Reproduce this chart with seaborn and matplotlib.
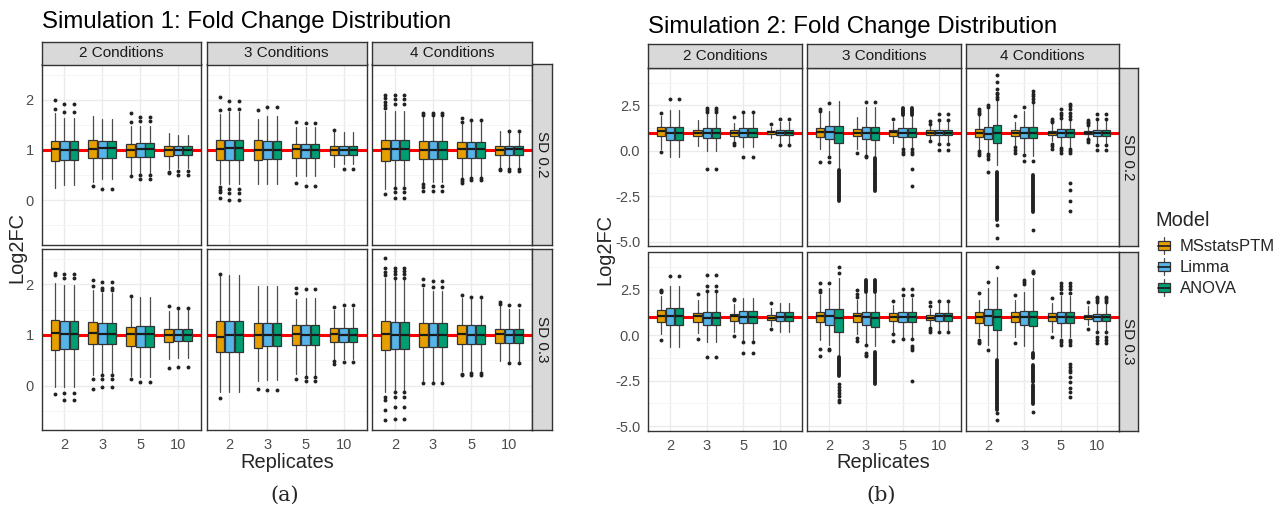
import matplotlib
matplotlib.use("Agg")
import matplotlib.pyplot as plt
import seaborn as sns
from matplotlib.patches import Patch, Rectangle
from matplotlib.lines import Line2D
from matplotlib.legend_handler import HandlerBase

# ---- categories ----
REPLICATES = ["2", "3", "5", "10"]
CONDITIONS = ["2 Conditions", "3 Conditions", "4 Conditions"]
SD_LEVELS = ["SD 0.2", "SD 0.3"]
MODELS = ["MSstatsPTM", "Limma", "ANOVA"]
COLORS = ["#E69F00", "#56B4E9", "#009E73"]

# box order inside each facet: rep2 (M, L, A), rep3 (M, L, A), rep5 (...), rep10 (...)
# ---- Simulation 1 box statistics [sd row][condition col][12 boxes] ----
S1_Q3 = [
    [[1.18, 1.18, 1.18, 1.20, 1.17, 1.17, 1.12, 1.13, 1.13, 1.07, 1.08, 1.08],
     [1.20, 1.20, 1.20, 1.19, 1.17, 1.17, 1.12, 1.12, 1.12, 1.08, 1.08, 1.08],
     [1.20, 1.20, 1.20, 1.17, 1.17, 1.17, 1.15, 1.15, 1.15, 1.08, 1.08, 1.08]],
    [[1.29, 1.27, 1.27, 1.26, 1.24, 1.24, 1.16, 1.18, 1.18, 1.11, 1.12, 1.12],
     [1.27, 1.27, 1.27, 1.24, 1.24, 1.24, 1.19, 1.19, 1.19, 1.13, 1.13, 1.13],
     [1.28, 1.26, 1.26, 1.23, 1.23, 1.23, 1.19, 1.19, 1.19, 1.11, 1.12, 1.12]],
]
S1_MED = [
    [[1.01, 0.99, 0.99, 1.02, 1.03, 1.03, 1.00, 1.02, 1.02, 1.00, 1.00, 1.00],
     [1.02, 1.03, 1.03, 0.99, 1.00, 1.00, 1.01, 1.00, 1.00, 1.00, 1.00, 1.00],
     [1.02, 1.02, 1.02, 1.00, 0.99, 0.99, 1.02, 1.01, 1.01, 1.00, 1.02, 1.02]],
    [[1.04, 1.01, 1.01, 1.04, 1.01, 1.01, 1.02, 1.01, 1.01, 1.00, 1.00, 1.00],
     [0.96, 1.00, 1.00, 1.00, 1.00, 1.00, 1.01, 1.00, 1.00, 1.02, 1.00, 1.00],
     [1.01, 1.00, 1.00, 1.00, 1.00, 1.00, 1.01, 1.00, 1.00, 1.01, 1.00, 1.00]],
]
S1_Q1 = [
    [[0.78, 0.81, 0.81, 0.85, 0.85, 0.85, 0.86, 0.87, 0.87, 0.88, 0.90, 0.90],
     [0.80, 0.80, 0.80, 0.80, 0.82, 0.82, 0.84, 0.84, 0.84, 0.90, 0.90, 0.90],
     [0.79, 0.80, 0.80, 0.82, 0.82, 0.82, 0.85, 0.85, 0.85, 0.90, 0.90, 0.90]],
    [[0.71, 0.73, 0.73, 0.83, 0.83, 0.83, 0.79, 0.77, 0.77, 0.86, 0.88, 0.88],
     [0.67, 0.67, 0.67, 0.75, 0.78, 0.78, 0.80, 0.80, 0.80, 0.86, 0.86, 0.86],
     [0.70, 0.72, 0.72, 0.77, 0.77, 0.77, 0.83, 0.82, 0.82, 0.84, 0.84, 0.84]],
]
S1_HI = [
    [[1.73, 1.64, 1.64, 1.67, 1.62, 1.62, 1.48, 1.48, 1.48, 1.34, 1.30, 1.30],
     [1.72, 1.75, 1.75, 1.62, 1.68, 1.68, 1.46, 1.45, 1.45, 1.35, 1.36, 1.36],
     [1.78, 1.78, 1.78, 1.65, 1.65, 1.65, 1.52, 1.57, 1.57, 1.37, 1.35, 1.35]],
    [[2.03, 1.99, 1.99, 1.88, 1.83, 1.83, 1.73, 1.75, 1.75, 1.48, 1.50, 1.50],
     [2.16, 2.19, 2.19, 1.96, 1.96, 1.96, 1.72, 1.74, 1.74, 1.50, 1.54, 1.54],
     [2.12, 2.09, 2.09, 1.93, 1.86, 1.86, 1.73, 1.73, 1.73, 1.57, 1.52, 1.52]],
]
S1_LO = [
    [[0.25, 0.30, 0.30, 0.36, 0.42, 0.42, 0.52, 0.52, 0.52, 0.62, 0.64, 0.64],
     [0.32, 0.32, 0.32, 0.32, 0.32, 0.32, 0.49, 0.49, 0.49, 0.67, 0.72, 0.72],
     [0.22, 0.29, 0.29, 0.36, 0.36, 0.36, 0.46, 0.46, 0.46, 0.67, 0.67, 0.67]],
    [[-0.03, -0.03, -0.03, 0.20, 0.23, 0.23, 0.18, 0.16, 0.16, 0.52, 0.54, 0.54],
     [-0.13, -0.12, -0.12, 0.08, 0.10, 0.10, 0.23, 0.20, 0.20, 0.52, 0.52, 0.52],
     [-0.13, -0.10, -0.10, 0.08, 0.08, 0.08, 0.29, 0.29, 0.29, 0.49, 0.49, 0.49]],
]
S1_OUT = [
    [[[1.81, 1.99], [1.75, 1.91], [1.75, 1.91],
      [0.29], [0.22], [0.22],
      [1.55, 1.73, 0.48], [1.57, 1.66, 0.50, 0.42], [1.57, 1.66, 0.50, 0.42],
      [0.57, 0.54], [0.59, 0.51], [0.59, 0.51]],
     [[2.06, 1.79, 0.26, 0.21, 0.16, 0.04], [1.98, 1.81, 0.22, 0.14, 0.01], [1.98, 1.81, 0.22, 0.14, 0.01],
      [1.80], [1.85], [1.85],
      [1.56, 0.34], [1.53, 0.29], [1.53, 0.29],
      [1.40], [0.62], [0.62]],
     [[1.84, 1.90, 1.96, 2.03, 2.10, 0.13], [1.91, 2.01, 2.09, 0.24, 0.16, 0.05], [1.91, 2.01, 2.09, 0.24, 0.16, 0.05],
      [1.70, 1.73, 0.32, 0.26, 0.19], [1.70, 1.73, 0.28, 0.18], [1.70, 1.73, 0.28, 0.18],
      [1.55, 1.64, 0.42, 0.38, 0.35], [1.60, 0.45, 0.41], [1.60, 0.45, 0.41],
      [0.63, 0.60], [1.38, 0.63, 0.59], [1.38, 0.63, 0.59]]],
    [[[2.18, 2.23, -0.17], [2.12, 2.20, -0.14, -0.29], [2.12, 2.20, -0.14, -0.29],
      [1.96, 2.08, 0.13, -0.07], [1.88, 1.93, 2.04, 0.13, 0.21, -0.02], [1.88, 1.93, 2.04, 0.13, 0.21, -0.02],
      [1.77, 0.13], [0.06], [0.06],
      [1.58, 0.35], [1.54, 0.37], [1.54, 0.37]],
     [[2.21, -0.25], [], [],
      [-0.07], [-0.09], [-0.09],
      [1.82, 1.92, 0.12], [1.90, 0.16, 0.08], [1.90, 0.16, 0.08],
      [1.56, 0.49, 0.42], [1.59, 0.47], [1.59, 0.47]],
     [[2.18, 2.25, 2.32, 2.52, -0.23, -0.28, -0.48, -0.69], [2.12, 2.20, 2.27, 2.32, -0.13, -0.23, -0.43, -0.67],
      [2.12, 2.20, 2.27, 2.32, -0.13, -0.23, -0.43, -0.67],
      [1.98, 2.11, 0.05], [1.94, 2.07, 0.05], [1.94, 2.07, 0.05],
      [1.80, 0.23, 0.20], [1.76, 0.25, 0.21], [1.76, 0.25, 0.21],
      [1.61, 1.65], [1.59, 0.44], [1.59, 0.44]]],
]

# ---- Simulation 2 box statistics ----
S2_Q3 = [
    [[1.29, 1.29, 1.29, 1.16, 1.25, 1.25, 1.12, 1.23, 1.23, 1.08, 1.16, 1.16],
     [1.27, 1.37, 1.37, 1.21, 1.30, 1.30, 1.16, 1.25, 1.25, 1.12, 1.12, 1.12],
     [1.20, 1.33, 1.40, 1.15, 1.30, 1.30, 1.10, 1.20, 1.20, 1.08, 1.15, 1.15]],
    [[1.36, 1.49, 1.49, 1.21, 1.29, 1.29, 1.16, 1.34, 1.34, 1.12, 1.25, 1.25],
     [1.30, 1.43, 1.43, 1.21, 1.30, 1.30, 1.20, 1.29, 1.29, 1.12, 1.21, 1.21],
     [1.27, 1.43, 1.43, 1.27, 1.35, 1.35, 1.20, 1.27, 1.27, 1.10, 1.15, 1.15]],
]
S2_MED = [
    [[1.08, 0.97, 0.97, 1.00, 1.00, 1.00, 0.99, 1.00, 1.00, 1.03, 1.00, 1.00],
     [1.03, 1.03, 0.97, 1.00, 1.00, 1.00, 1.03, 0.97, 0.97, 1.00, 0.97, 0.97],
     [0.98, 0.93, 1.00, 1.00, 1.00, 1.00, 1.00, 1.00, 1.00, 1.00, 1.00, 1.00]],
    [[1.07, 1.03, 1.03, 1.03, 0.92, 0.92, 1.03, 0.99, 0.99, 0.97, 1.01, 1.01],
     [1.03, 1.03, 0.94, 1.03, 1.00, 0.97, 1.02, 1.00, 1.00, 0.97, 1.03, 1.03],
     [1.00, 1.05, 1.00, 1.00, 1.02, 1.00, 1.00, 1.00, 1.00, 1.00, 0.98, 0.98]],
]
S2_Q1 = [
    [[0.79, 0.59, 0.59, 0.79, 0.70, 0.70, 0.81, 0.76, 0.76, 0.90, 0.86, 0.86],
     [0.76, 0.66, 0.40, 0.79, 0.65, 0.60, 0.81, 0.77, 0.77, 0.86, 0.84, 0.84],
     [0.75, 0.66, 0.44, 0.80, 0.71, 0.70, 0.88, 0.75, 0.77, 0.90, 0.82, 0.82]],
    [[0.74, 0.55, 0.55, 0.72, 0.55, 0.55, 0.77, 0.66, 0.66, 0.85, 0.79, 0.79],
     [0.70, 0.55, 0.17, 0.70, 0.55, 0.44, 0.78, 0.70, 0.70, 0.86, 0.79, 0.79],
     [0.66, 0.55, 0.30, 0.70, 0.55, 0.50, 0.79, 0.66, 0.66, 0.88, 0.80, 0.80]],
]
S2_HI = [
    [[1.90, 2.26, 2.26, 1.67, 2.04, 2.04, 1.53, 2.04, 2.04, 1.30, 1.58, 1.58],
     [2.10, 2.20, 2.73, 1.85, 2.40, 2.40, 1.58, 1.95, 1.95, 1.40, 1.58, 1.58],
     [1.95, 2.30, 2.75, 1.60, 2.20, 2.60, 1.50, 1.75, 1.70, 1.38, 1.70, 1.70]],
    [[2.13, 2.68, 2.68, 1.91, 2.30, 2.30, 1.71, 2.04, 2.04, 1.49, 1.76, 1.76],
     [2.20, 2.60, 3.14, 1.95, 2.30, 2.30, 1.65, 2.04, 2.04, 1.45, 1.76, 1.76],
     [1.95, 2.60, 3.20, 1.95, 2.40, 3.15, 1.76, 2.13, 2.13, 1.58, 1.76, 1.76]],
]
S2_LO = [
    [[0.10, -0.35, -0.35, 0.24, -0.02, -0.02, 0.52, 0.20, 0.20, 0.70, 0.39, 0.39],
     [0.10, -0.25, -1.00, 0.10, -0.25, -0.30, 0.44, 0.20, 0.20, 0.63, 0.48, 0.48],
     [0.05, -0.10, -0.77, 0.30, -0.10, -0.30, 0.55, 0.20, 0.20, 0.68, 0.40, 0.40]],
    [[0.05, -0.66, -0.66, 0.11, -0.35, -0.35, 0.20, -0.35, -0.35, 0.51, 0.15, 0.15],
     [-0.26, -0.53, -1.08, 0.05, -0.45, -0.62, 0.20, -0.10, -0.10, 0.51, 0.29, 0.29],
     [-0.10, -0.53, -1.27, -0.10, -0.62, -0.90, 0.20, -0.10, -0.10, 0.57, 0.29, 0.29]],
]
S2_OUT = [
    [[[2.08, -0.07], [2.87], [2.87],
      [], [2.13, 2.25, 2.35, -1.0], [2.13, 2.25, 2.35, -1.0],
      [1.86, 0.42, 0.30], [2.13, -0.35], [2.13, -0.35],
      [1.49], [1.76, 0.30], [1.76, 0.30]],
     [[2.20, 2.30, -0.60], [2.65, -0.35, -0.60], [],
      [-0.10], [2.70, -0.30, -0.35], [2.70],
      [1.76], [0.07, -0.05, -0.20], [0.07, -0.05, -0.20, -1.0, -1.92],
      [1.45, 1.64, 0.53], [2.04, 1.67, 0.35, 0.04], [2.04, 1.67, 0.35, 0.04]],
     [[2.03, 2.10, 2.20, 2.30, -0.04, -0.12, -0.22], [2.40, 2.53, -0.17, -0.30, -0.45, -1.17],
      [2.82, 2.95, 3.10, 3.20, 3.37, 3.77, 4.14, -4.10, -4.80],
      [1.90, 0.20, 0.05, -0.10], [2.38, -0.26, -0.58], [2.67, 2.85, 3.00, 3.10, 3.30, -0.58, -4.34],
      [1.57, 1.65, 1.75, 0.38, 0.25, 0.10], [1.80, 1.95, 2.10, 2.30, 0.15, 0.05, -0.10],
      [1.75, 1.93, 2.10, 2.30, 2.45, 2.58, 0.10, 0.0, -0.10, -1.80, -2.18, -2.77, -3.33],
      [1.40, 1.50, 1.60, 1.67, 0.66, 0.58, 0.50], [1.76, 2.03, 0.33, 0.02], [1.76, 2.03, 0.33, 0.02]]],
    [[[2.37, 2.45, 2.50, -0.26], [3.23], [3.23],
      [2.26, -0.22], [2.43, 2.72, 3.29, -1.21], [2.43, 2.72, 3.29, -1.21],
      [1.91, 1.98, -0.07], [-0.39, -0.99], [-0.39, -0.99],
      [1.76, 0.35], [], []],
     [[2.40, 2.50, 2.87, -0.77, -1.14], [2.87, -0.75, -0.80],
      [3.42, 3.75, -2.70, -2.85, -3.00, -3.20, -3.35, -3.55, -3.70],
      [2.10, 2.26, 2.46, -0.17, -0.30], [-0.53, -1.00, -1.08, -1.15], [],
      [1.90, 0.07, -0.30], [2.22, 2.53, -0.22], [2.22, 2.53, -0.22, -0.62, -0.70, -0.80, -2.50],
      [1.60, 1.85, 0.38, 0.30, 0.20], [1.90, 0.15], [1.90, 0.15]],
     [[2.30, -0.25, -0.35, -0.45], [2.90, -0.80], [3.75, -4.30, -4.65],
      [2.22, -0.44], [2.80, 2.90, 3.05], [3.40, 3.50, 3.55, -4.25],
      [2.03, -0.10], [2.30, 2.55, 2.70, 2.85, -0.25, -0.40, -0.53],
      [2.30, 2.55, 2.70, 2.85, -0.25, -0.40, -0.53, -1.60, -1.75, -1.90, -2.05, -2.30, -2.55, -2.90, -3.10, -3.40],
      [1.85, 0.33], [1.85, 1.95, 2.05, 2.10, 0.20, -0.10, -0.26, -0.44],
      [1.85, 1.95, 2.05, 2.10, 0.20, -0.10, -0.26, -0.44]]],
]
# long solid stretches of outliers: (sd row, condition col, box index, low, high)
S2_RUNS = [
    (0, 1, 2, -2.75, -1.08), (0, 1, 5, -2.20, -0.40), (0, 1, 7, 1.98, 2.33), (0, 1, 8, 1.98, 2.33),
    (0, 2, 2, -3.83, -1.17), (0, 2, 5, -3.37, -1.35),
    (1, 1, 2, -2.22, -1.18), (1, 1, 4, 2.40, 3.05), (1, 1, 5, 2.40, 3.05), (1, 1, 5, -2.70, -0.90),
    (1, 2, 2, -4.10, -1.35), (1, 2, 5, -1.25, -1.00), (1, 2, 5, -2.55, -1.65), (1, 2, 5, -3.80, -2.75),
]

sns.set_style("white")
plt.rcParams["font.family"] = ["Liberation Sans", "DejaVu Sans"]

W, H = 1283, 515
fig = plt.figure(figsize=(W / 100, H / 100), dpi=100)


def rect(l, t, r, b):
    return [l / W, 1 - b / H, (r - l) / W, (b - t) / H]


def draw_facet(ax, q1, med, q3, lo, hi, out, runs, ylim, yticks, ylabels, yminor, left, bottom):
    stats, pos = [], []
    for i in range(12):
        rep, m = divmod(i, 3)
        stats.append(dict(med=med[i], q1=q1[i], q3=q3[i], whislo=lo[i], whishi=hi[i], fliers=out[i]))
        pos.append(rep + (m - 1) * 0.25)
    ax.axhline(1, color="#FF0000", lw=2.2, zorder=1.5)
    bp = ax.bxp(stats, positions=pos, widths=0.225, patch_artist=True, showcaps=False,
                boxprops=dict(edgecolor="#333333", lw=0.9, zorder=3),
                whiskerprops=dict(color="#4d4d4d", lw=0.9, zorder=2),
                medianprops=dict(color="#1a1a1a", lw=1.6, zorder=4),
                flierprops=dict(marker="o", markersize=2.8, markerfacecolor="#222222",
                                markeredgewidth=0, zorder=3))
    for i, patch in enumerate(bp["boxes"]):
        patch.set_facecolor(COLORS[i % 3])
    for (i, l, h) in runs:
        ax.vlines(pos[i], l, h, colors="#222222", lw=2.8, capstyle="round", zorder=3)
    ax.set_xlim(-0.6, 3.6)
    ax.set_ylim(*ylim)
    ax.set_xticks(range(4))
    ax.set_yticks(yticks)
    ax.set_yticks(yminor, minor=True)
    ax.grid(which="major", color="#EBEBEB", lw=1.0)
    ax.grid(which="minor", axis="y", color="#F4F4F4", lw=0.6)
    ax.set_axisbelow(True)
    for s in ax.spines.values():
        s.set_color("#333333")
        s.set_linewidth(1.0)
    ax.tick_params(which="minor", length=0)
    ax.tick_params(axis="both", which="major", colors="#333333", labelcolor="#4D4D4D",
                   labelsize=10.5, length=3, width=0.8, direction="out", pad=2.5)
    if left:
        ax.set_yticklabels(ylabels)
    else:
        ax.tick_params(axis="y", length=0, labelleft=False)
    if bottom:
        ax.set_xticklabels(REPLICATES)
    else:
        ax.tick_params(axis="x", length=0, labelbottom=False)


def strip(box, text, rotation=0):
    sax = fig.add_axes(box)
    sax.set_facecolor("#D9D9D9")
    sax.set_xticks([])
    sax.set_yticks([])
    for s in sax.spines.values():
        s.set_color("#333333")
        s.set_linewidth(1.0)
    sax.text(0.5, 0.5, text, transform=sax.transAxes, ha="center", va="center",
             fontsize=11, color="#1A1A1A", rotation=rotation)


def draw_sim(title, q1, med, q3, lo, hi, out, runs, cols, rows, strip_top, strip_right,
             ylim, yticks, ylabels, yminor, label_x, title_y, tag):
    for r in range(2):
        for c in range(3):
            ax = fig.add_axes(rect(cols[c][0], rows[r][0], cols[c][1], rows[r][1]))
            rr = [(i, l, h) for (a, b, i, l, h) in runs if a == r and b == c]
            draw_facet(ax, q1[r][c], med[r][c], q3[r][c], lo[r][c], hi[r][c], out[r][c], rr,
                       ylim, yticks, ylabels, yminor, c == 0, r == 1)
        strip(rect(strip_right[0], rows[r][0], strip_right[1], rows[r][1]), SD_LEVELS[r], rotation=-90)
    for c in range(3):
        strip(rect(cols[c][0], strip_top, cols[c][1], rows[0][0]), CONDITIONS[c])
    fig.text(cols[0][0] / W, 1 - title_y / H, title, ha="left", va="center", fontsize=17.3, color="black")
    xmid = (cols[0][0] + cols[2][1]) / 2
    ymid = (rows[0][0] + rows[1][1]) / 2
    fig.text(xmid / W, 1 - 463 / H, "Replicates", ha="center", va="center", fontsize=14.4)
    fig.text(label_x / W, 1 - ymid / H, "Log2FC", ha="center", va="center", rotation=90, fontsize=14.4)
    fig.text((xmid - 2) / W, 1 - 495 / H, tag, ha="center", va="center", fontsize=15,
             family=["DejaVu Serif"])


draw_sim("Simulation 1: Fold Change Distribution", S1_Q1, S1_MED, S1_Q3, S1_LO, S1_HI, S1_OUT, [],
         cols=[(41.5, 201), (206.5, 366.5), (372, 532)], rows=[(64.5, 244.5), (249, 430)],
         strip_top=42, strip_right=(532, 552), ylim=(-0.88, 2.70),
         yticks=[0, 1, 2], ylabels=["0", "1", "2"], yminor=[-0.5, 0.5, 1.5, 2.5],
         label_x=17, title_y=22, tag="(a)")

draw_sim("Simulation 2: Fold Change Distribution", S2_Q1, S2_MED, S2_Q3, S2_LO, S2_HI, S2_OUT, S2_RUNS,
         cols=[(648, 802), (807.5, 961), (966, 1119)], rows=[(68, 246.5), (252.5, 431)],
         strip_top=44, strip_right=(1119, 1138), ylim=(-5.27, 4.55),
         yticks=[-5, -2.5, 0, 2.5], ylabels=["-5.0", "-2.5", "0.0", "2.5"],
         yminor=[-3.75, -1.25, 1.25, 3.75], label_x=605, title_y=27, tag="(b)")


class BoxKey(HandlerBase):
    """ggplot-like boxplot legend key: whisker, box and median line."""

    def create_artists(self, legend, orig_handle, xdescent, ydescent, width, height, fontsize, trans):
        cx = -xdescent + width / 2
        y0 = -ydescent
        bw, bh = width * 0.8, height * 0.62
        whisk = Line2D([cx, cx], [y0 - height * 0.1, y0 + height * 1.1], color="#4d4d4d", lw=0.9,
                       transform=trans)
        box = Rectangle((cx - bw / 2, y0 + (height - bh) / 2), bw, bh, facecolor=orig_handle.get_facecolor(),
                        edgecolor="#333333", lw=0.9, transform=trans)
        med = Line2D([cx - bw / 2, cx + bw / 2], [y0 + height / 2] * 2, color="#1a1a1a", lw=1.2,
                     transform=trans)
        return [whisk, box, med]


fig.text(1155 / W, 1 - 221 / H, "Model", ha="left", va="center", fontsize=14.4)
handles = [Patch(facecolor=c) for c in COLORS]
fig.legend(handles, MODELS, loc="upper left", bbox_to_anchor=(1157 / W, 1 - 238.5 / H),
           frameon=False, fontsize=12, borderpad=0, borderaxespad=0,
           handlelength=0.85, handleheight=0.95, handletextpad=0.5, labelspacing=0.3,
           handler_map={Patch: BoxKey()})

fig.savefig("out.png", dpi=100)
